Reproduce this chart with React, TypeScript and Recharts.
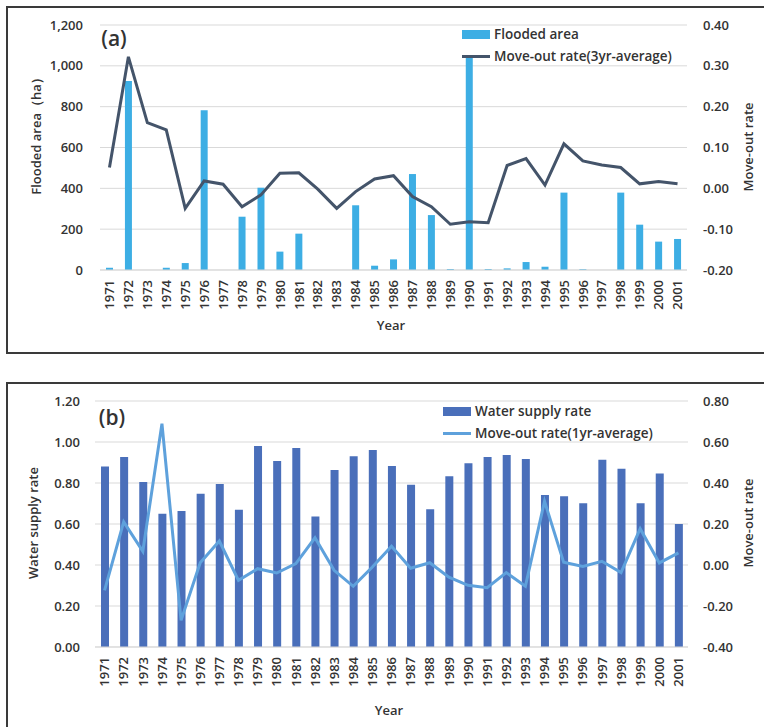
import React from "react";
import { ComposedChart, Bar, Line, XAxis, YAxis, CartesianGrid, Legend } from "recharts";

// Years shared by both panels
const years = [
  "1971", "1972", "1973", "1974", "1975", "1976", "1977", "1978", "1979", "1980",
  "1981", "1982", "1983", "1984", "1985", "1986", "1987", "1988", "1989", "1990",
  "1991", "1992", "1993", "1994", "1995", "1996", "1997", "1998", "1999", "2000", "2001",
];

// (a) flooded area (ha) and 3yr-average move-out rate
const floodedArea = [
  11, 926, 0, 11, 34, 782, 0, 261, 403, 90,
  178, 0, 0, 317, 21, 52, 470, 269, 5, 1053,
  5, 8, 39, 16, 379, 4, 0, 379, 222, 139, 152,
];
const moveOut3yr = [
  0.051, 0.322, 0.161, 0.143, -0.049, 0.018, 0.01, -0.045, -0.016, 0.037,
  0.038, -0.002, -0.049, -0.008, 0.023, 0.031, -0.02, -0.045, -0.088, -0.082,
  -0.084, 0.056, 0.073, 0.008, 0.109, 0.067, 0.057, 0.051, 0.011, 0.017, 0.011,
];

// (b) water supply rate and 1yr-average move-out rate
const waterSupply = [
  0.88, 0.927, 0.805, 0.65, 0.663, 0.748, 0.795, 0.67, 0.98, 0.907,
  0.971, 0.636, 0.863, 0.93, 0.961, 0.883, 0.792, 0.672, 0.833, 0.896,
  0.927, 0.937, 0.917, 0.741, 0.735, 0.701, 0.914, 0.87, 0.701, 0.846, 0.6,
];
const moveOut1yr = [
  -0.124, 0.21, 0.067, 0.689, -0.27, 0.011, 0.117, -0.075, -0.018, -0.039,
  0.007, 0.133, -0.026, -0.104, -0.01, 0.091, -0.016, 0.011, -0.059, -0.099,
  -0.111, -0.037, -0.104, 0.311, 0.013, -0.007, 0.018, -0.037, 0.177, 0.01, 0.059,
];

const floodTicks = [0, 200, 400, 600, 800, 1000, 1200];
const rate3Ticks = [-0.2, -0.1, 0, 0.1, 0.2, 0.3, 0.4];
const supplyTicks = [0, 0.2, 0.4, 0.6, 0.8, 1.0, 1.2];
const rate1Ticks = [-0.4, -0.2, 0, 0.2, 0.4, 0.6, 0.8];

const dataA = years.map((year, i) => ({ year, flooded: floodedArea[i], moveOut: moveOut3yr[i] }));
const dataB = years.map((year, i) => ({ year, supply: waterSupply[i], moveOut: moveOut1yr[i] }));

const FONT = "'Open Sans', 'DejaVu Sans', sans-serif";
const TEXT = "#333333";
const GRID = "#d9d9d9";

const tickStyle = { fontSize: 13, fontWeight: 600, fill: TEXT, fontFamily: FONT };

const YearTick = (props: any) => {
  const { x, y, payload } = props;
  return (
    <text
      transform={`translate(${x},${y + 2}) rotate(-90)`}
      textAnchor="end"
      dy="0.36em"
      style={tickStyle}
    >
      {payload.value}
    </text>
  );
};

// bars listed before lines, like the original legend
const LegendBox = (props: any) => {
  const items = [...(props.payload || [])].sort(
    (a: any, b: any) => (a.type === "line" ? 1 : 0) - (b.type === "line" ? 1 : 0)
  );
  return (
    <div style={{ fontFamily: FONT, fontSize: 13.5, fontWeight: 600, color: TEXT }}>
      {items.map((p: any) => (
        <div key={p.value} style={{ display: "flex", alignItems: "center", height: 22 }}>
          {p.type === "line" ? (
            <span style={{ width: 28, height: 3, background: p.color, marginRight: 4 }} />
          ) : (
            <span style={{ width: 28, height: 9, background: p.color, marginRight: 4 }} />
          )}
          <span>{p.value}</span>
        </div>
      ))}
    </div>
  );
};

const Title = ({ text, x, y, rotate, size = 13 }: any) => (
  <div
    style={{
      position: "absolute",
      left: x,
      top: y,
      transform: `translate(-50%, -50%)${rotate ? " rotate(-90deg)" : ""}`,
      whiteSpace: "nowrap",
      fontFamily: FONT,
      fontSize: size,
      fontWeight: 600,
      color: TEXT,
    }}
  >
    {text}
  </div>
);

const panelBorder = (top: number, height: number): React.CSSProperties => ({
  position: "absolute",
  left: 6,
  top,
  width: 800,
  height,
  border: "2px solid #3a3a3a",
  boxSizing: "border-box",
});

export default function App() {
  return (
    <div
      style={{
        position: "absolute",
        left: 0,
        top: 0,
        width: 764,
        height: 727,
        overflow: "hidden",
        background: "#fff",
      }}
    >
      <div style={panelBorder(6, 348)} />
      <div style={{ position: "absolute", left: 0, top: 0 }}>
        <ComposedChart width={764} height={353} data={dataA} margin={{ top: 25, right: 0, bottom: 0, left: 0 }}>
          <CartesianGrid yAxisId="left" vertical={false} stroke={GRID} />
          <XAxis
            dataKey="year"
            height={83}
            interval={0}
            tickLine={false}
            axisLine={{ stroke: GRID }}
            tick={<YearTick />}
          />
          <YAxis
            yAxisId="left"
            width={100}
            domain={[0, 1200]}
            ticks={floodTicks}
            tickFormatter={(v: number) => v.toLocaleString("en-US")}
            tickLine={false}
            axisLine={false}
            tickMargin={11}
            tick={tickStyle}
          />
          <YAxis
            yAxisId="right"
            orientation="right"
            width={77}
            domain={[-0.2, 0.4]}
            ticks={rate3Ticks}
            tickFormatter={(v: number) => v.toFixed(2)}
            tickLine={false}
            axisLine={false}
            tickMargin={10}
            tick={tickStyle}
          />
          <Legend
            layout="horizontal"
            verticalAlign="middle"
            content={<LegendBox />}
            wrapperStyle={{ position: "absolute", left: 462, top: 23, width: "auto" }}
          />
          <Bar yAxisId="left" dataKey="flooded" name="Flooded area" fill="#3daee4" barSize={7} isAnimationActive={false} />
          <Line
            yAxisId="right"
            type="linear"
            dataKey="moveOut"
            name="Move-out rate(3yr-average)"
            stroke="#44546a"
            strokeWidth={3}
            dot={false}
            isAnimationActive={false}
          />
        </ComposedChart>
      </div>
      <Title text="(a)" x={114} y={38} size={21} />
      <Title text="Flooded area（ha）" x={36} y={133} rotate />
      <Title text="Move-out rate" x={748} y={147} rotate />
      <Title text="Year" x={391} y={325} />

      <div style={panelBorder(382, 400)} />
      <div style={{ position: "absolute", left: 0, top: 376 }}>
        <ComposedChart width={764} height={351} data={dataB} margin={{ top: 25, right: 0, bottom: 0, left: 0 }}>
          <CartesianGrid yAxisId="left" vertical={false} stroke={GRID} />
          <XAxis
            dataKey="year"
            height={80}
            interval={0}
            tickLine={false}
            axisLine={{ stroke: GRID }}
            tick={<YearTick />}
          />
          <YAxis
            yAxisId="left"
            width={95}
            domain={[0, 1.2]}
            ticks={supplyTicks}
            tickFormatter={(v: number) => v.toFixed(2)}
            tickLine={false}
            axisLine={false}
            tickMargin={9}
            tick={tickStyle}
          />
          <YAxis
            yAxisId="right"
            orientation="right"
            width={76}
            domain={[-0.4, 0.8]}
            ticks={rate1Ticks}
            tickFormatter={(v: number) => v.toFixed(2)}
            tickLine={false}
            axisLine={false}
            tickMargin={9}
            tick={tickStyle}
          />
          <Legend
            layout="horizontal"
            verticalAlign="middle"
            content={<LegendBox />}
            wrapperStyle={{ position: "absolute", left: 443, top: 24, width: "auto" }}
          />
          <Bar yAxisId="left" dataKey="supply" name="Water supply rate" fill="#4a6fba" barSize={8} isAnimationActive={false} />
          <Line
            yAxisId="right"
            type="linear"
            dataKey="moveOut"
            name="Move-out rate(1yr-average)"
            stroke="#5ea1dc"
            strokeWidth={3}
            dot={false}
            isAnimationActive={false}
          />
        </ComposedChart>
      </div>
      <Title text="(b)" x={112} y={417} size={21} />
      <Title text="Water supply rate" x={33} y={523} rotate />
      <Title text="Move-out rate" x={748} y={523} rotate />
      <Title text="Year" x={389} y={710} />
    </div>
  );
}
